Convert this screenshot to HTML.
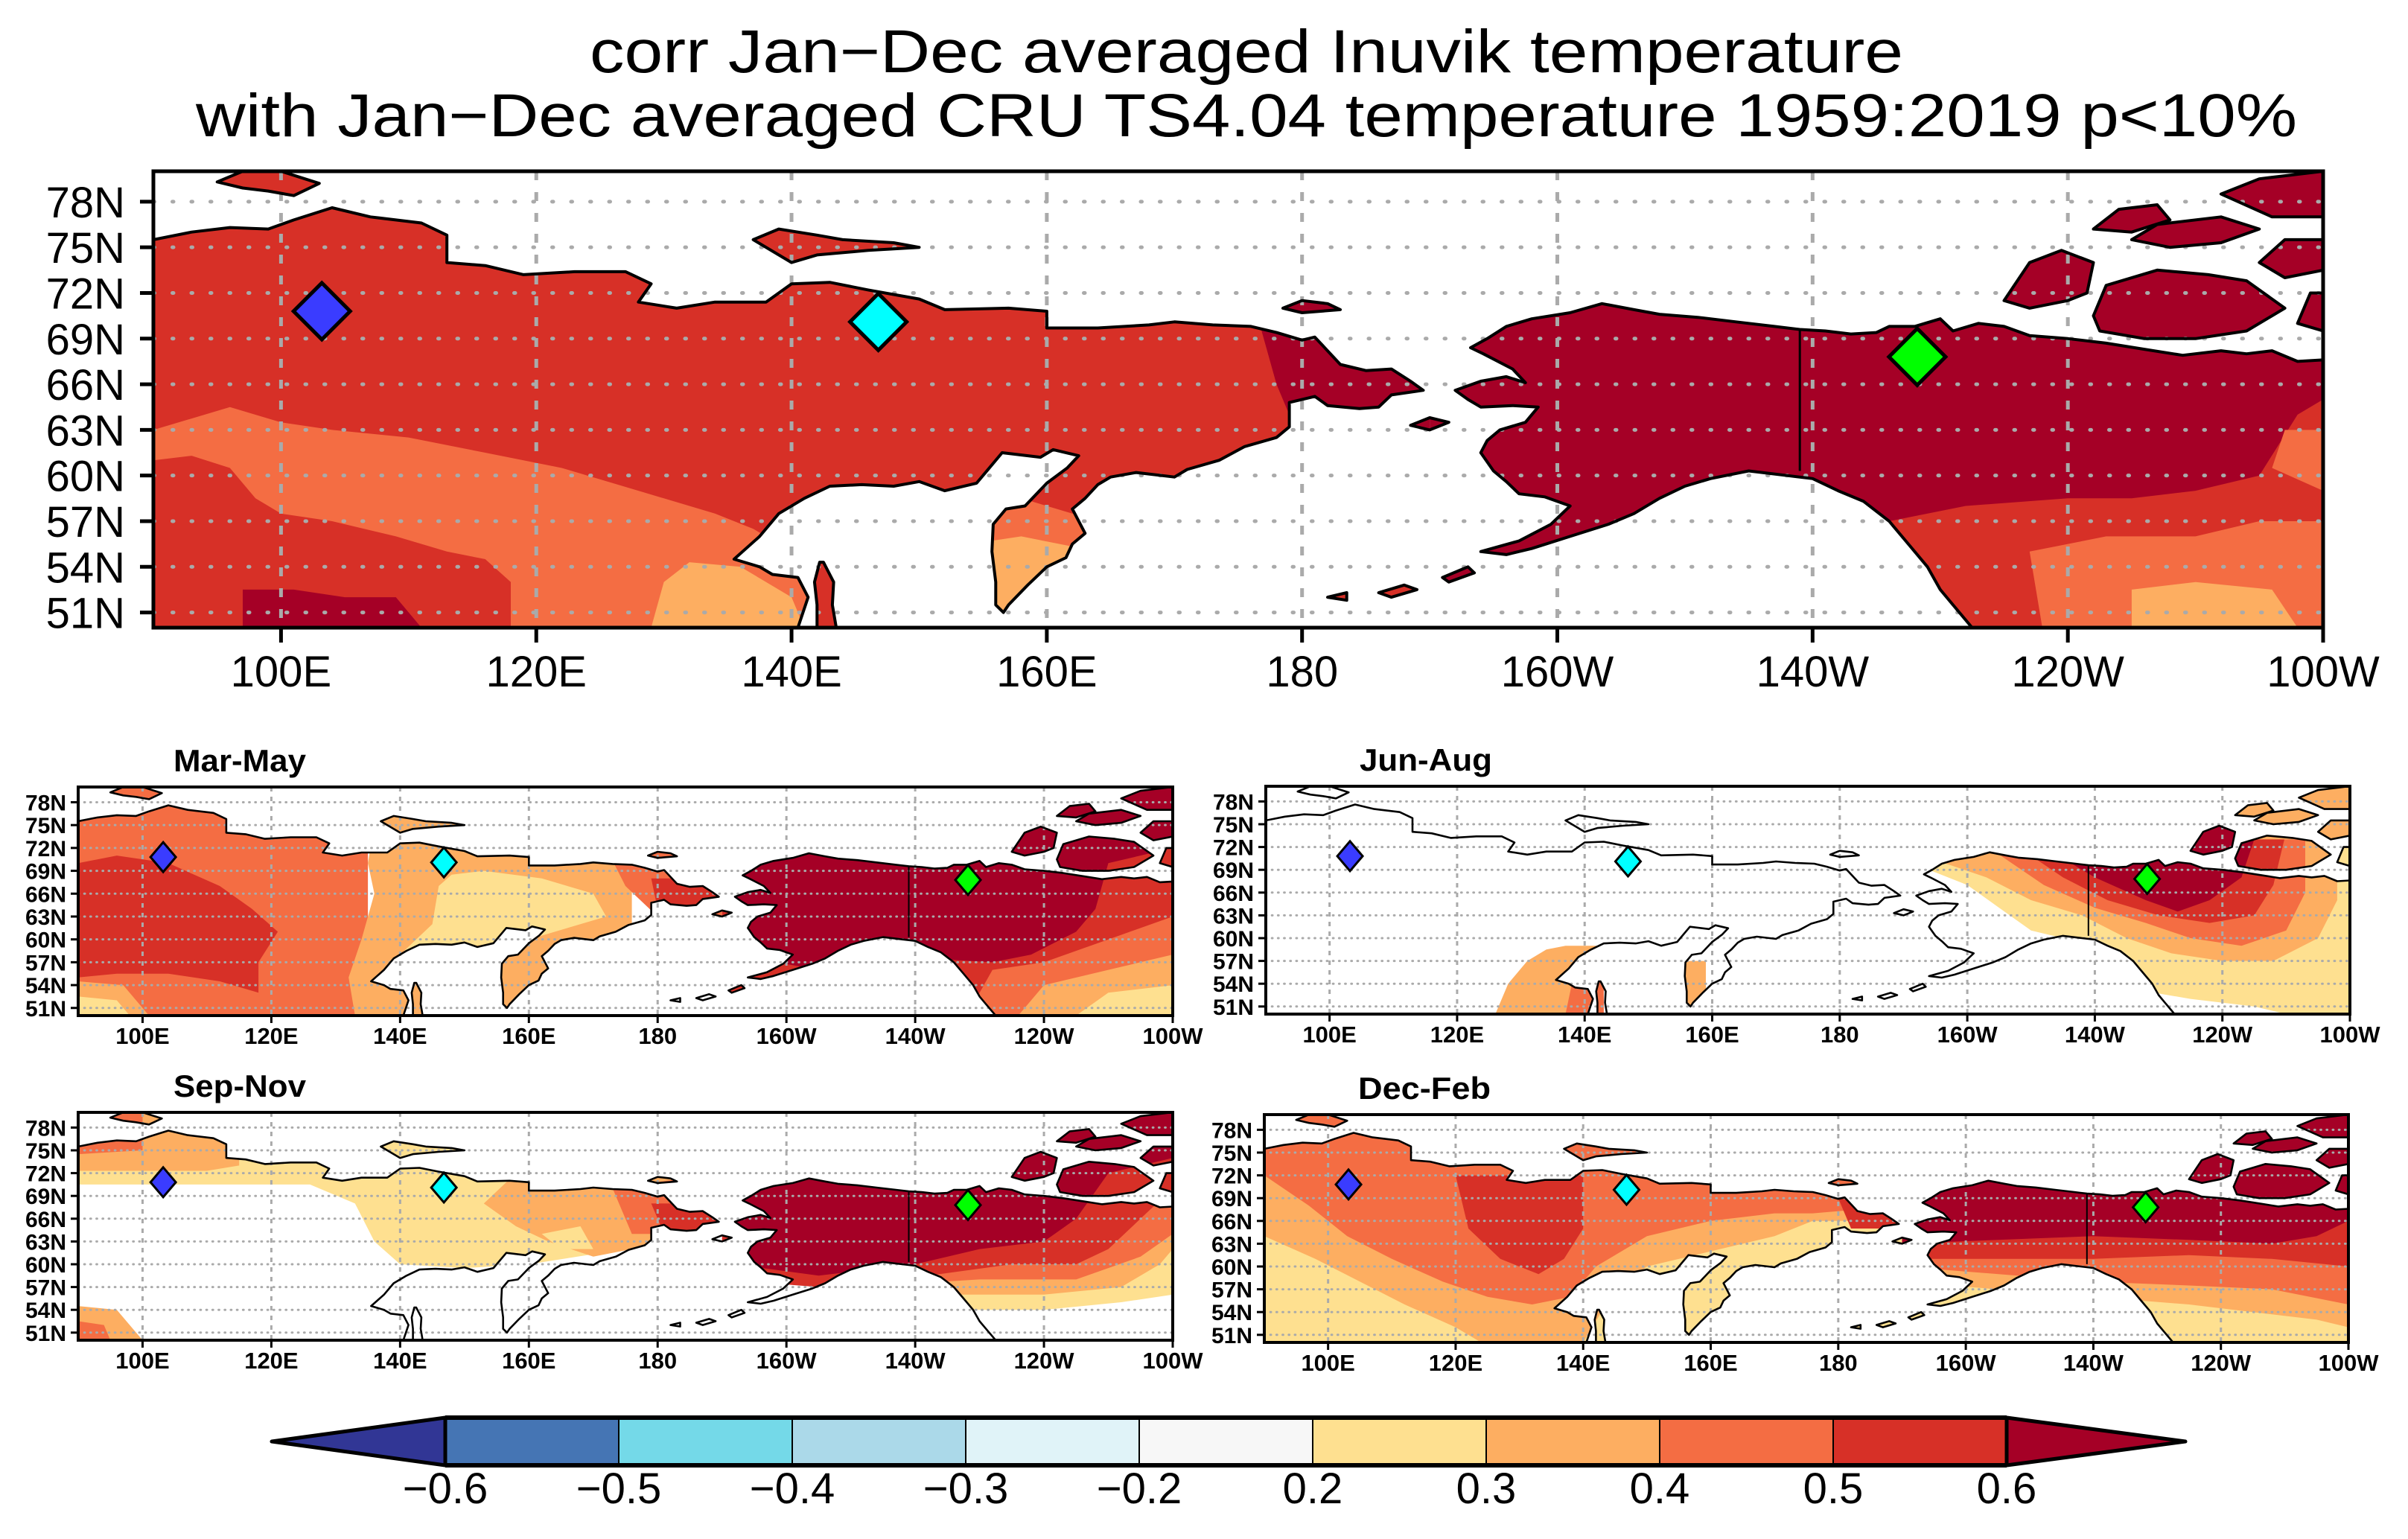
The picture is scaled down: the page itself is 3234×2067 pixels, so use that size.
<!DOCTYPE html>
<html><head><meta charset="utf-8"><title>corr Inuvik temperature</title>
<style>html,body{margin:0;padding:0;background:#fff;}svg{display:block;font-family:"Liberation Sans",sans-serif;}</style>
</head><body>
<svg id="fig" xmlns="http://www.w3.org/2000/svg" width="3234" height="2067" viewBox="0 0 3234 2067">
<rect x="0" y="0" width="3234" height="2067" fill="#fff"/>
<text x="1674" y="97" font-size="82" text-anchor="middle" textLength="1764" lengthAdjust="spacingAndGlyphs">corr Jan−Dec averaged Inuvik temperature</text>
<text x="1674" y="183" font-size="82" text-anchor="middle" textLength="2822" lengthAdjust="spacingAndGlyphs">with Jan−Dec averaged CRU TS4.04 temperature 1959:2019 p&lt;10%</text>
</svg>
<script>
const NS='http://www.w3.org/2000/svg';
const svg=document.getElementById('fig');
// ---------- data ----------
const stationNames=['station-blue','station-cyan','station-inuvik'];
const stationLon=[103.2,146.8,228.2];
const stationLat=[70.8,70.1,67.8];
const stationColor=['#3a3cff','#00ffff','#00ff00'];
const levels=[-0.6,-0.5,-0.4,-0.3,-0.2,0.2,0.3,0.4,0.5,0.6];
const levelLabels=['−0.6','−0.5','−0.4','−0.3','−0.2','0.2','0.3','0.4','0.5','0.6'];
const boxColors=['#4575b4','#74d9e8','#abd9e9','#e0f3f8','#f7f7f7','#fee090','#fdae61','#f46d43','#d73027'];
const lowColor='#313695', highColor='#a50026';
const latTicks=[51,54,57,60,63,66,69,72,75,78];
const lonTicks=[100,120,140,160,180,200,220,240,260];
const lonLabels=['100E','120E','140E','160E','180','160W','140W','120W','100W'];
// land polygons [lon(0-360E), lat]
const landEurasia=[[90,75.5],[93,76],[96,76.3],[99,76.2],[101,76.8],[104,77.6],[107,77],[111,76.6],[113,75.8],[113,74],[116,73.8],[119,73.2],[123,73.4],[127,73.4],[129,72.6],[128,71.4],[131,71],[134,71.4],[138,71.4],[140,72.6],[143,72.7],[146,72.2],[150,71.6],[152,70.9],[157,71],[160,70.8],[160,69.7],[164,69.7],[168,69.9],[170,70.1],[173,69.9],[176,69.8],[178,69.4],[180,68.9],[181,69.1],[183,67.3],[185,66.9],[187,67],[188.5,66.2],[189.5,65.6],[187,65.3],[186,64.5],[184.5,64.4],[182,64.6],[181,65.2],[179,64.8],[179,63.2],[178,62.5],[175.5,61.9],[173.5,61],[171,60.4],[170,59.9],[167,60.2],[165,59.9],[164,59.4],[163,58.5],[162,57.8],[163,56.2],[162,55.5],[161.5,54.6],[160,54],[158.5,52.8],[157,51.5],[156.6,51],[156,51.5],[156,53],[155.7,55],[155.8,56.8],[156.8,57.8],[158.3,58],[160,59.5],[161.6,60.5],[162.5,61.3],[160.5,61.7],[159.5,61.2],[156.5,61.5],[154.5,59.5],[152,59],[150,59.6],[148,59.3],[145.5,59.4],[143,59.3],[141,58.5],[139,57.5],[137.5,56],[135.5,54.5],[137.5,54],[138.5,53.5],[140.5,53.3],[141.3,52],[140.5,50],[90,50]];
const landNAmerica=[[192,65.6],[194,66.2],[196,66.5],[197.5,66.1],[196.5,67],[194.2,68],[193.2,68.4],[194.5,69],[196,69.8],[198,70.3],[201,70.7],[203.5,71.3],[206,70.9],[208,70.6],[211,70.4],[214,70.1],[217,69.8],[219,69.6],[221,69.5],[223,69.3],[225,69.4],[226,69.8],[228,69.8],[230,70.3],[231,69.5],[233,70],[235,69.8],[237,69.2],[240,69],[243,68.7],[246,68.3],[249,67.9],[252,68.2],[254,68],[256,68.2],[258,67.5],[260,67.6],[260,50],[232.5,50],[231,51.5],[230,52.5],[229,54],[227.5,55.5],[226,57],[224,58.3],[222,59],[220,59.8],[218,60],[215,60.3],[212,59.8],[210,59.3],[208,58.5],[206,57.5],[204,56.8],[201,56],[198,55.2],[196,54.8],[194,55],[197,55.7],[199.5,56.8],[201,58],[199,58.6],[197,58.8],[196,59.6],[195,60.3],[194,61.5],[194.5,62.3],[195.5,63],[197.5,63.5],[198.5,64.5],[196.5,64.6],[194,64.5],[193,65]];
const landIslands=[
 [[142.5,54.3],[143.3,53],[143.2,51.5],[143.5,50],[142,50],[142,51.5],[141.8,53],[142.2,54.3]],
 [[95,79.3],[97,80],[100,80],[103,79.2],[101,78.4],[99,78.7],[97,78.9]],
 [[137,75.5],[139,76.2],[142,75.8],[144,75.5],[148,75.3],[150,75],[146,74.8],[142,74.5],[140,74]],
 [[178.5,71],[180,71.5],[182,71.3],[183,70.9],[180,70.7]],
 [[188.5,63.3],[190,63.8],[191.5,63.5],[190,63]],
 [[235,71.5],[237,74],[239.5,74.8],[242,74],[241.5,72],[240,71.5],[237,71]],
 [[242,70.5],[243,72.5],[247,73.5],[251,73.2],[254,72.8],[257,71],[254,69.5],[250,69],[246,69],[242.5,69.5]],
 [[245,75.5],[247,76.5],[252,77],[255,76.2],[252,75.3],[248,75]],
 [[252,78.5],[255,79.5],[260,80],[260,77],[256,77]],
 [[242,76.2],[244,77.5],[247,77.8],[248,76.8],[245,76]],
 [[255,74],[257,75.5],[260,75.5],[260,73.5],[257,73]],
 [[258,70],[259,72],[260,72],[260,69.5]],
 [[186,52.3],[188,52.8],[189,52.5],[187,52]],[[191,53.3],[193,54],[193.5,53.6],[191.5,53]],[[182,52],[183.5,52.3],[183.5,51.8]]
];
const borderLine=[[219,69.6],[219,60.3]];
// colour zones per panel: [colour, polygon]
const R=(a,b,c,d)=>[[a,c],[b,c],[b,d],[a,d]];
const zonesAnnual=[
 ['#d73027',R(90,190,50,80)],
 ['#f46d43',[[90,50],[90,63],[96,64.5],[100,63.5],[104,63],[110,62.5],[116,61.5],[122,60.5],[128,59],[134,57.5],[137,56.5],[140,55],[142,50]]],
 ['#d73027',[[90,50],[90,61],[93,61.3],[96,60.5],[98,58.5],[100,57.5],[104,57],[109,56],[113,55],[116,54.5],[118,53],[118,50]]],
 ['#a50026',[[97,50],[97,52.5],[101,52.5],[105,52],[109,52],[111,50]]],
 ['#fdae61',[[129,50],[130,53],[132,54.3],[136,54],[140,52],[141,50]]],
 ['#f46d43',[[154,50],[154,58.5],[158,58.5],[164,57],[164,50]]],
 ['#fdae61',[[154,50],[154,55.5],[158,56],[164,55],[164,50]]],
 ['#a50026',[[176,72],[178,66],[180,62],[180,58],[190,58],[190,72]]],
 ['#a50026',R(190,260,50,80)],
 ['#d73027',[[225,50],[226,57],[232,58],[240,58.5],[245,58.5],[250,59],[255,60],[258,64],[260,65],[260,50]]],
 ['#f46d43',[[238,50],[237,55],[243,56],[250,56],[255,57],[260,57],[260,50]]],
 ['#f46d43',[[256,60.5],[257,63],[260,63],[260,59]]],
 ['#fdae61',[[245,50],[245,52.5],[250,53],[256,52.5],[258,50]]]
];
const zonesMAM=[
 ['#f46d43',R(90,135,50,80)],
 ['#d73027',[[90,70],[96,71],[104,70],[112,67],[117,64],[121,61],[118,57],[118,53],[112,54.5],[104,55.5],[96,55.5],[90,55]]],
 ['#fdae61',[[90,50],[90,54.5],[97,54],[101,50]]],
 ['#fee090',[[90,50],[90,52.5],[96,52],[98,50]]],
 ['#fdae61',[[133,50],[132,55],[134,60],[136,66],[135,70],[137,80],[176,80],[176,50]]],
 ['#fee090',[[140,58],[145,62],[146,67],[148,68.5],[153,69],[162,68],[170,66],[172,63],[160,60],[150,59]]],
 ['#f46d43',[[172,72],[175,67],[180,63],[190,63],[190,72]]],
 ['#d73027',[[179,68],[180,64],[190,64],[190,68]]],
 ['#d73027',R(190,260,50,80)],
 ['#a50026',[[192,80],[192,58],[205,56],[215,58],[222,57.5],[232,57],[238,58],[245,61],[248,64],[250,70],[260,72],[260,80]]],
 ['#f46d43',[[228,50],[232,56],[240,57],[250,60],[260,63],[260,50]]],
 ['#fdae61',[[236,50],[240,54],[250,56],[260,58],[260,50]]],
 ['#fee090',[[245,50],[250,53],[260,54],[260,50]]]
];
const zonesJJA=[
 ['#fdae61',[[126,50],[128,54],[131,57],[134,58.5],[137,59],[142,59],[142,50]]],
 ['#f46d43',[[137,50],[138,54],[140,56],[143,56],[143,50]]],
 ['#fdae61',[[155,50],[155,57],[159,57],[159,52]]],
 ['#fee090',[[194,69],[200,67],[205,64],[210,61],[215,60],[222,56],[228,53],[235,52],[245,51],[250,50],[260,50],[260,80],[194,80]]],
 ['#fdae61',[[196,70],[203,68],[210,65],[218,63],[225,60],[232,58],[240,57],[248,57],[255,60],[258,65],[258,80],[196,80]]],
 ['#f46d43',[[205,71],[212,67],[220,64],[228,62],[235,60],[243,59],[250,61],[253,66],[253,74],[205,74]]],
 ['#d73027',[[208,72],[215,68],[222,65],[230,63],[238,62],[245,63],[248,67],[250,74],[208,74]]],
 ['#a50026',[[212,72],[220,68],[228,65],[233,63.5],[238,65],[243,68],[245,73],[240,76],[212,76]]],
 ['#fdae61',R(244,260,73,80)]
];
const zonesSON=[
 ['#fee090',[[90,70.5],[126,70.5],[133,68],[136,63],[140,60],[150,59.5],[160,60],[175,62],[190,64],[190,80],[90,80]]],
 ['#fdae61',[[90,72.3],[110,72.3],[115,73],[115,80],[90,80]]],
 ['#f46d43',[[90,74.5],[100,75],[100,80],[90,80]]],
 ['#fdae61',[[153,68],[158,65],[163,63],[170,61],[176,62],[190,64],[190,72],[158,72]]],
 ['#fee090',[[162,64],[165,62],[170,62],[168,65]]],
 ['#f46d43',[[173,70],[176,64],[190,64],[190,72]]],
 ['#d73027',[[179,68],[181,64],[190,64],[190,68]]],
 ['#fdae61',[[90,50],[90,54.5],[96,54],[99,51],[100,50]]],
 ['#f46d43',[[90,50],[90,52.5],[94,52],[95,50]]],
 ['#fee090',[[225,54],[240,54],[252,55],[260,56],[260,80],[225,80]]],
 ['#fdae61',[[222,56],[240,56],[252,57],[258,60],[260,62],[260,80],[222,80]]],
 ['#f46d43',[[210,57],[230,58],[245,58],[255,61],[260,64],[260,80],[210,80]]],
 ['#d73027',[[190,80],[190,58],[205,57],[222,58.5],[235,60],[245,60],[250,62],[255,66],[260,70],[260,80]]],
 ['#a50026',[[192,80],[192,60],[205,58.5],[220,60],[230,62],[240,63],[245,66],[250,72],[260,74],[260,80]]]
];
const zonesDJF=[
 ['#fee090',R(90,190,50,80)],
 ['#fdae61',[[90,64],[98,61],[105,58],[112,55],[120,52],[124,50],[140,50],[145,57],[150,60],[160,62],[170,64],[176,66],[190,66],[190,80],[90,80]]],
 ['#f46d43',[[90,72],[97,68],[103,64],[110,61],[118,58],[125,56],[132,55],[138,56],[142,60],[150,64],[160,66],[170,67],[176,67],[190,68],[190,80],[90,80]]],
 ['#d73027',[[120,72],[122,65],[127,61],[133,59],[137,61],[140,65],[140,72]]],
 ['#d73027',[[180,69],[182,65],[190,65],[190,69]]],
 ['#fee090',R(190,260,50,80)],
 ['#fdae61',[[190,58],[220,56],[235,55],[245,54],[255,53],[260,52],[260,80],[190,80]]],
 ['#f46d43',[[190,60],[220,58],[235,57.5],[248,57],[260,55],[260,80],[190,80]]],
 ['#d73027',[[190,61],[220,61],[235,61.5],[248,61],[260,60],[260,80],[190,80]]],
 ['#a50026',[[190,63],[220,64],[235,63.5],[248,63],[255,64],[260,66],[260,80],[190,80]]]
];
const panels=[
 {name:'annual-map',x:206,y:230,w:2914,h:613,main:true,zones:zonesAnnual},
 {name:'mar-may-map',x:105,y:1057,w:1470,h:307,title:'Mar-May',tx:233,ty:1036,zones:zonesMAM},
 {name:'jun-aug-map',x:1700,y:1056,w:1456,h:306,title:'Jun-Aug',tx:1826,ty:1035,zones:zonesJJA},
 {name:'sep-nov-map',x:105,y:1494,w:1470,h:306,title:'Sep-Nov',tx:233,ty:1473,zones:zonesSON},
 {name:'dec-feb-map',x:1698,y:1497,w:1456,h:306,title:'Dec-Feb',tx:1824,ty:1476,zones:zonesDJF}
];
// ---------- helpers ----------
function mk(tag,attrs,parent){const e=document.createElementNS(NS,tag);for(const k in attrs)e.setAttribute(k,attrs[k]);(parent||svg).appendChild(e);return e;}
panels.forEach((P,pi)=>{
 const X=lon=>P.x+(lon-90)/170*P.w, Y=lat=>P.y+(80-lat)/30*P.h;
 const pts=poly=>poly.map(p=>X(p[0]).toFixed(1)+','+Y(p[1]).toFixed(1)).join(' ');
 const lands=[landEurasia,landNAmerica].concat(landIslands);
 const g=mk('g',{});
 
 
 const cp=mk('clipPath',{id:'land'+pi},g);
 lands.forEach(l=>mk('polygon',{points:pts(l)},cp));
 const fp=mk('clipPath',{id:'frame'+pi},g);
 mk('rect',{x:P.x,y:P.y,width:P.w,height:P.h},fp);
 const zg=mk('g',{'clip-path':'url(#land'+pi+')'},g);
 
 
 P.zones.forEach(z=>{
  const e=mk('polygon',{points:pts(z[1]),fill:z[0]},zg);
  
  
 });
 const sw=P.main?5:3;
 const gg=mk('g',{'clip-path':'url(#frame'+pi+')'},g);
 
 
 latTicks.forEach(la=>{mk('line',{x1:P.x,x2:P.x+P.w,y1:Y(la),y2:Y(la),stroke:'#aaa','stroke-width':sw,'stroke-linecap':'round','stroke-dasharray':P.main?'1.5 24':'0.8 7.4'},gg);});
 lonTicks.slice(0,-1).forEach(lo=>{mk('line',{x1:X(lo),x2:X(lo),y1:P.y,y2:P.y+P.h,stroke:'#aaa','stroke-width':sw,'stroke-dasharray':P.main?'12 16':'6 7'},gg);});
 const cg=mk('g',{'clip-path':'url(#frame'+pi+')',fill:'none',stroke:'#000','stroke-width':P.main?4:2.6,'stroke-linejoin':'round'},g);
 
 
 lands.forEach(l=>mk('polygon',{points:pts(l)},cg));
 mk('polyline',{points:pts(borderLine),'stroke-width':P.main?3:2},cg);
 const fr=mk('rect',{x:P.x,y:P.y,width:P.w,height:P.h,fill:'none',stroke:'#000','stroke-width':P.main?5:4},g);
 
 
 const tl=P.main?18:10;
 latTicks.forEach(la=>{
  mk('line',{x1:P.x-tl,x2:P.x,y1:Y(la),y2:Y(la),stroke:'#000','stroke-width':P.main?5:3},g);
  const t=mk('text',{x:P.x-(P.main?38:16),y:Y(la)+(P.main?21:11),'font-size':P.main?58:30,'font-weight':P.main?'normal':'bold','text-anchor':'end'},g);
  t.textContent=la+'N';
  
  
 });
 lonTicks.forEach((lo,i)=>{
  mk('line',{x1:X(lo),x2:X(lo),y1:P.y+P.h,y2:P.y+P.h+(P.main?20:10),stroke:'#000','stroke-width':P.main?5:3},g);
  const t=mk('text',{x:X(lo),y:P.y+P.h+(P.main?79:38),'font-size':P.main?58:31,'font-weight':P.main?'normal':'bold','text-anchor':'middle'},g);
  t.textContent=lonLabels[i];
  
  
 });
 if(P.title){
  const t=mk('text',{x:P.tx,y:P.ty,'font-size':42,'font-weight':'bold',textLength:178,lengthAdjust:'spacingAndGlyphs'},g);
  t.textContent=P.title;
  
  
 }
 stationLon.forEach((lo,i)=>{
  const cx=X(lo),cy=Y(stationLat[i]);
  const hw=P.main?38:17, hh=P.main?38:20;
  const d=mk('polygon',{points:`${cx},${cy-hh} ${cx+hw},${cy} ${cx},${cy+hh} ${cx-hw},${cy}`,fill:stationColor[i],stroke:'#000','stroke-width':P.main?5:3},g);
  
  
 });
});
// ---------- colorbar ----------
const cbX0=598, cbW=233, cbY=1904, cbH=64, tipL=365, tipR=2935;
const cb=mk('g',{});


const cbx=i=>cbX0+i*cbW;
boxColors.forEach((c,i)=>{
 const r=mk('rect',{x:cbx(i),y:cbY,width:cbW,height:cbH,fill:c,stroke:'#000','stroke-width':2},cb);
 
 
});
const lt=mk('polygon',{points:`${cbx(0)},${cbY} ${tipL},${cbY+cbH/2} ${cbx(0)},${cbY+cbH}`,fill:lowColor,stroke:'#000','stroke-width':5,'stroke-linejoin':'round'},cb);


const rt=mk('polygon',{points:`${cbx(9)},${cbY} ${tipR},${cbY+cbH/2} ${cbx(9)},${cbY+cbH}`,fill:highColor,stroke:'#000','stroke-width':5,'stroke-linejoin':'round'},cb);


mk('line',{x1:cbx(0),x2:cbx(9),y1:cbY,y2:cbY,stroke:'#000','stroke-width':6},cb);
mk('line',{x1:cbx(0),x2:cbx(9),y1:cbY+cbH,y2:cbY+cbH,stroke:'#000','stroke-width':6},cb);
levels.forEach((v,i)=>{
 const t=mk('text',{x:cbx(i),y:2019,'font-size':58,'text-anchor':'middle'},cb);
 t.textContent=levelLabels[i];
 
 
});
</script>
</body></html>
